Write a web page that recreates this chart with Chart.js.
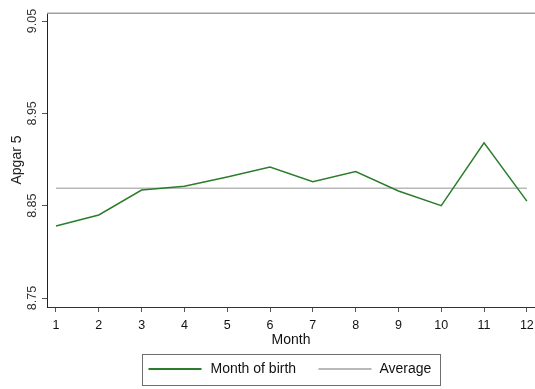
<!DOCTYPE html>
<html><head><meta charset="utf-8">
<script src="https://cdn.jsdelivr.net/npm/chart.js@4"></script>
<style>html,body{margin:0;padding:0;background:#fff}#wrap{width:535px;height:389px}</style>
</head><body><div id="wrap"><canvas id="c" width="535" height="389"></canvas></div>
<script>
const months = [1, 2, 3, 4, 5, 6, 7, 8, 9, 10, 11, 12];
const apgar5 = [8.828, 8.840, 8.867, 8.871, 8.881, 8.892, 8.876, 8.887, 8.866, 8.850, 8.918, 8.855];
const averageValue = 8.869;
const yTicks = [8.75, 8.85, 8.95, 9.05];
const seriesLabels = ['Month of birth', 'Average'];
const seriesColors = ['#2b7d2b', '#b8b8b8'];
const FONT = 'Liberation Sans, Arial, sans-serif';

const framePlugin = {
  id: 'frame',
  afterDraw(chart) {
    const {ctx, chartArea: a} = chart;
    ctx.save();
    ctx.strokeStyle = '#a0a0a0';
    ctx.lineWidth = 1.5;
    ctx.beginPath();
    ctx.moveTo(a.left, a.top + 0.25);
    ctx.lineTo(a.right, a.top + 0.25);
    ctx.stroke();
    const cx = (a.left + a.right) / 2;
    const bx = Math.round(cx - 149) + 0.5, by = 354.5, bw = 298, bh = 31;
    ctx.strokeStyle = '#6e6e6e';
    ctx.lineWidth = 1;
    ctx.strokeRect(bx, by, bw, bh);
    const ly = by + 14.5;
    const items = [
      {x0: bx + 6, x1: bx + 59, tx: bx + 68},
      {x0: bx + 176, x1: bx + 229, tx: bx + 237}
    ];
    chart.data.datasets.forEach((ds, i) => {
      const it = items[i];
      ctx.strokeStyle = ds.borderColor;
      ctx.lineWidth = 2;
      ctx.beginPath();
      ctx.moveTo(it.x0, ly);
      ctx.lineTo(it.x1, ly);
      ctx.stroke();
      ctx.fillStyle = '#111';
      ctx.font = '14px ' + FONT;
      ctx.textBaseline = 'middle';
      ctx.textAlign = 'left';
      ctx.fillText(ds.label, it.tx, ly);
    });
    ctx.restore();
  }
};

new Chart(document.getElementById('c'), {
  type: 'line',
  data: {
    datasets: [
      {
        label: seriesLabels[0],
        data: months.map((m, i) => ({x: m, y: apgar5[i]})),
        borderColor: seriesColors[0], borderWidth: 1.5, pointRadius: 0, tension: 0
      },
      {
        label: seriesLabels[1],
        data: [{x: months[0], y: averageValue}, {x: months[months.length - 1], y: averageValue}],
        borderColor: seriesColors[1], borderWidth: 1.5, pointRadius: 0, tension: 0
      }
    ]
  },
  options: {
    responsive: false,
    animation: false,
    layout: {autoPadding: false, padding: {left: 0, right: 0, top: 13, bottom: 39}},
    plugins: {legend: {display: false}, tooltip: {enabled: false}},
    scales: {
      x: {
        type: 'linear', min: 0.79, max: 12.19,
        afterBuildTicks: s => { s.ticks = months.map(v => ({value: v})); },
        afterFit: s => { s.height = 43; s.paddingLeft = 0; s.paddingRight = 0; },
        grid: {drawOnChartArea: false, drawTicks: true, tickLength: 5, color: '#555'},
        border: {color: '#333', width: 1},
        ticks: {font: {family: FONT, size: 12.5}, color: '#111', padding: 6, maxRotation: 0, minRotation: 0, autoSkip: false,
                callback: v => String(v)},
        title: {display: true, text: 'Month', font: {family: FONT, size: 14}, color: '#111', padding: {top: 0, bottom: 1}}
      },
      y: {
        type: 'linear', min: 8.7403, max: 9.0587,
        afterBuildTicks: s => { s.ticks = yTicks.map(v => ({value: v})); },
        afterFit: s => { s.width = 47; s.paddingTop = 0; s.paddingBottom = 0; },
        grid: {drawOnChartArea: false, drawTicks: true, tickLength: 5, color: '#555'},
        border: {color: '#222', width: 1},
        ticks: {font: {family: FONT, size: 12.5}, color: '#333', minRotation: 90, maxRotation: 90, crossAlign: 'center', padding: -2.5,
                callback: v => Number(v).toFixed(2)},
        title: {display: true, text: 'Apgar 5', font: {family: FONT, size: 14}, color: '#222', padding: {top: 9, bottom: 0}}
      }
    }
  },
  plugins: [framePlugin]
});
</script>
</body></html>
